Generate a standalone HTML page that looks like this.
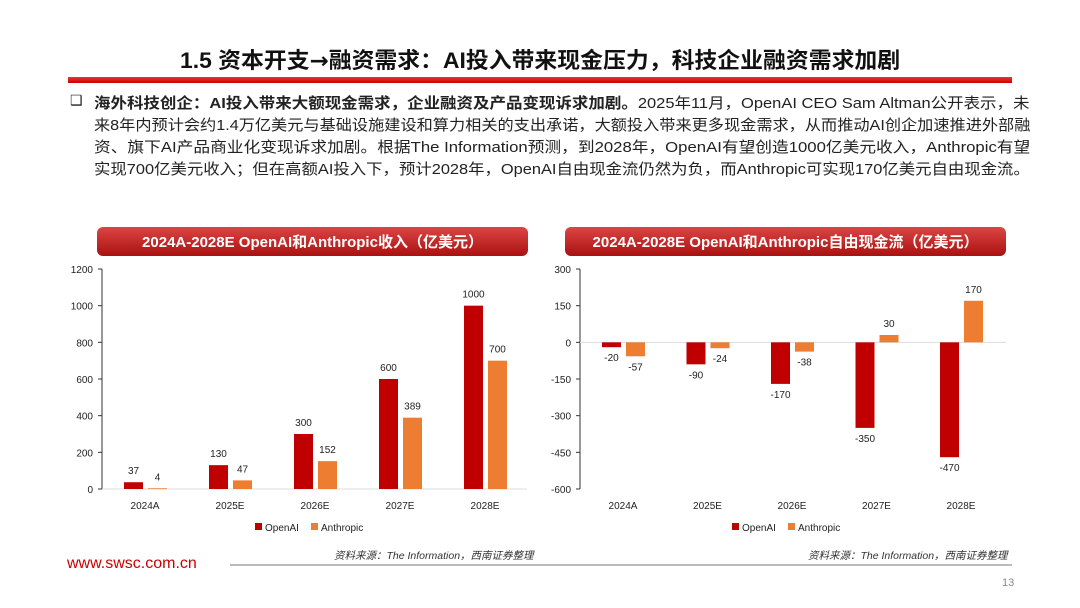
<!DOCTYPE html>
<html><head><meta charset="utf-8"><style>
body{margin:0;width:1080px;height:608px;background:#fff;overflow:hidden;font-family:"Liberation Sans","Noto Sans CJK SC",sans-serif;position:relative}
.t{position:absolute}
.ln{position:absolute;left:0;white-space:nowrap;transform-origin:0 0;font-size:15px}
</style></head><body>
<div class="t" id="title" style="left:180px;top:43px;white-space:nowrap;transform-origin:0 0;font-size:22px;font-weight:bold;color:#111">1.5 资本开支<span style="font-family:'DejaVu Sans',sans-serif">→</span>融资需求：AI投入带来现金压力，科技企业融资需求加剧</div>
<div class="t" style="left:68px;top:77px;width:944px;height:6px;background:linear-gradient(#e33,#c00)"></div>
<div class="t" style="left:70px;top:92px;width:960px;height:90px;color:#222">
<span style="position:absolute;left:0;top:0;font-size:14px">❑</span>
<div class="ln" style="left:24px;top:0"><b>海外科技创企：AI投入带来大额现金需求，企业融资及产品变现诉求加剧。</b>2025年11月，OpenAI CEO Sam Altman公开表示，未</div>
<div class="ln" style="left:24px;top:22px">来8年内预计会约1.4万亿美元与基础设施建设和算力相关的支出承诺，大额投入带来更多现金需求，从而推动AI创企加速推进外部融</div>
<div class="ln" style="left:24px;top:44px">资、旗下AI产品商业化变现诉求加剧。根据The Information预测，到2028年，OpenAI有望创造1000亿美元收入，Anthropic有望</div>
<div class="ln" style="left:24px;top:66px">实现700亿美元收入；但在高额AI投入下，预计2028年，OpenAI自由现金流仍然为负，而Anthropic可实现170亿美元自由现金流。</div>
</div>
<svg id="svg" class="t" style="left:0;top:0" width="1080" height="608"></svg>
<div class="t" style="left:67px;top:555px;font-size:16px;color:#c00">www.swsc.com.cn</div>
<div class="t" style="left:230px;top:564px;width:782px;height:2px;background:#bbb"></div>
<div class="t" style="left:334px;top:548px;font-size:10.5px;font-style:italic;color:#333">资料来源：The Information，西南证券整理</div>
<div class="t" style="left:808px;top:548px;font-size:10.5px;font-style:italic;color:#333">资料来源：The Information，西南证券整理</div>
<div class="t" style="left:1002px;top:577px;font-size:11px;color:#888">13</div>
<script>
const categories=["2024A","2025E","2026E","2027E","2028E"];
const revOpenAI=[37,130,300,600,1000];
const revAnthropic=[4,47,152,389,700];
const revTicks=[0,200,400,600,800,1000,1200];
const fcfOpenAI=[-20,-90,-170,-350,-470];
const fcfAnthropic=[-57,-24,-38,30,170];
const fcfTicks=[-600,-450,-300,-150,0,150,300];
document.querySelectorAll('.ln').forEach(l=>{l.style.transform='scaleX('+(936/l.scrollWidth)+')';});
const tt=document.getElementById('title');tt.style.transform='scaleX('+(720/tt.scrollWidth)+')';
const svg=document.getElementById('svg');
const NS='http://www.w3.org/2000/svg';
function mk(t,a,txt){const e=document.createElementNS(NS,t);for(const k in a)e.setAttribute(k,a[k]);if(txt!==undefined)e.textContent=txt;svg.appendChild(e);return e;}
function chart(o){
  const y=v=>o.y0+(v-o.min)/(o.max-o.min)*(o.y1-o.y0);
  const x=i=>o.cx0+i*o.step;
  let d=mk('defs',{});d.innerHTML=`<linearGradient id="g${o.id}" x1="0" y1="0" x2="0" y2="1"><stop offset="0" stop-color="#d44"/><stop offset="1" stop-color="#a11"/></linearGradient>`;
  let b=mk('rect',{x:o.bx,y:227,width:o.bw,height:29,rx:6,fill:`url(#g${o.id})`});
  
  let t=mk('text',{x:o.bx+o.bw/2,y:247,'text-anchor':'middle','font-size':15,'font-weight':'bold',fill:'#fff'},o.title);
  
  let ax=mk('line',{x1:o.ax,x2:o.ax,y1:y(o.max),y2:y(o.min),stroke:'#333','stroke-width':1});
  
  o.ticks.forEach(v=>{
    mk('line',{x1:o.ax-4,x2:o.ax,y1:y(v),y2:y(v),stroke:'#333'});
    let l=mk('text',{x:o.ax-9,y:y(v)+4,'text-anchor':'end','font-size':10,fill:'#222'},v);
    
  });
  let z=mk('line',{x1:o.ax,x2:o.right,y1:y(0),y2:y(0),stroke:'#ddd'});
  
  categories.forEach((c,i)=>{
    let l=mk('text',{x:x(i),y:509,'text-anchor':'middle','font-size':10,fill:'#222'},c);
    
    [[o.a,'#c00000',-21],[o.b,'#ed7d31',3]].forEach(([arr,col,off])=>{
      const v=arr[i],y0=y(0),yv=y(v);
      let r=mk('rect',{x:x(i)+off,y:Math.min(y0,yv),width:19,height:Math.max(Math.abs(yv-y0),0.8),fill:col});
      
      let ly=v>=0?yv-8:yv+14;
      let tl=mk('text',{x:x(i)+off+9.5,y:ly,'text-anchor':'middle','font-size':10,fill:'#222'},v);
      
    });
  });
  const lx=o.cx0+2*o.step-60;
  let r1=mk('rect',{x:lx,y:523,width:7,height:7,fill:'#c00000'});
  mk('text',{x:lx+10,y:531,'font-size':10,fill:'#222'},'OpenAI');
  let r2=mk('rect',{x:lx+56,y:523,width:7,height:7,fill:'#ed7d31'});
  mk('text',{x:lx+66,y:531,'font-size':10,fill:'#222'},'Anthropic');
}
chart({id:1,title:'2024A-2028E OpenAI和Anthropic收入（亿美元）',bx:97,bw:431,ax:102,right:527,y0:489,y1:269,min:0,max:1200,cx0:145,step:85,a:revOpenAI,b:revAnthropic,ticks:revTicks});
chart({id:2,title:'2024A-2028E OpenAI和Anthropic自由现金流（亿美元）',bx:565,bw:441,ax:580,right:1006,y0:489,y1:269,min:-600,max:300,cx0:623,step:84.5,a:fcfOpenAI,b:fcfAnthropic,ticks:fcfTicks});
</script>
</body></html>
